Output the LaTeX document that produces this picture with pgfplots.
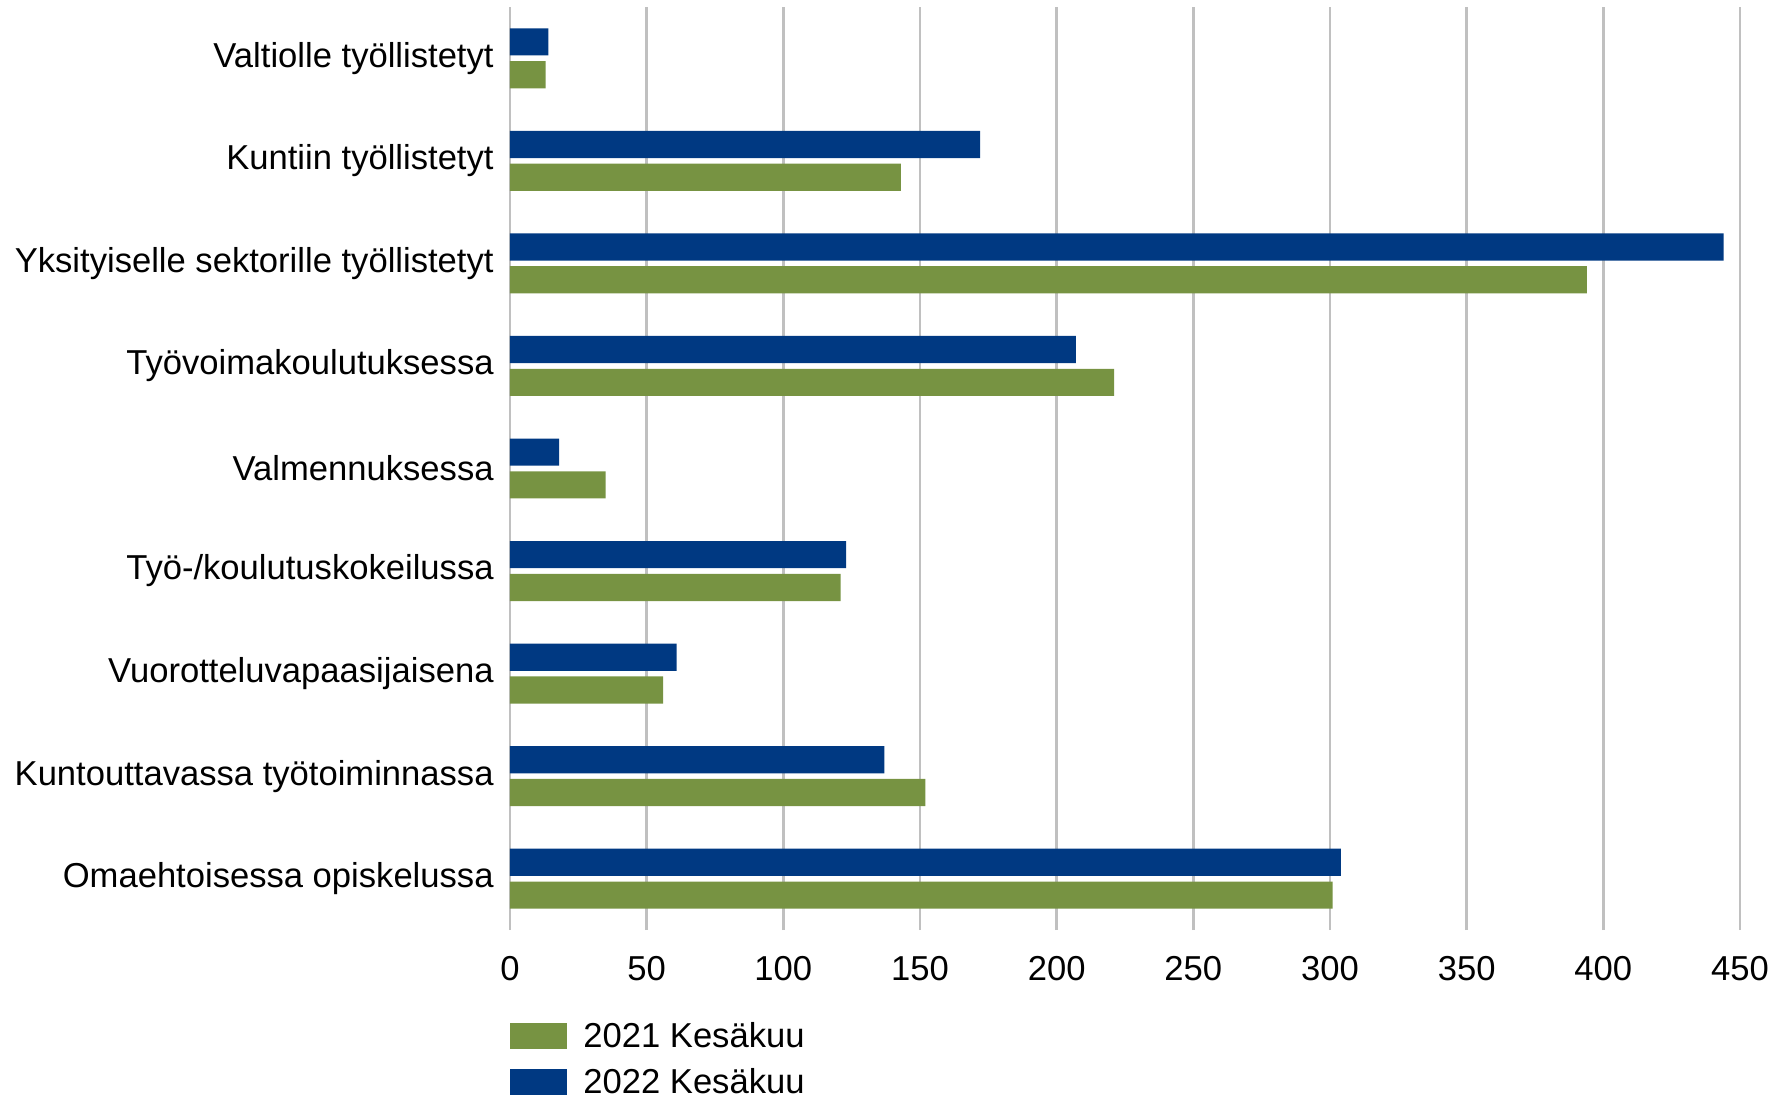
\documentclass[border=0pt]{standalone}
\usepackage{fontspec}
\setmainfont{Liberation Sans}
\usepackage{pgfplots}
\pgfplotsset{compat=1.18}
\definecolor{cblue}{RGB}{0,57,130}
\definecolor{cgreen}{RGB}{119,147,66}
\definecolor{cgrid}{RGB}{192,192,192}
\newcommand{\fnt}{\fontsize{17.3}{20.8}\selectfont}
\begin{document}
\begin{tikzpicture}[font=\fnt]
\useasboundingbox (-255pt,-85.5pt) rectangle (632.5pt,465pt);
\begin{axis}[
  at={(0,0)}, anchor=south west,
  scale only axis,
  width=615pt, height=461.5pt,
  xbar, bar width=0.265,
  xmin=0, xmax=450, ymin=-0.5, ymax=8.5,
  xtick={0,50,...,450},
  ytick={0,...,8},
  yticklabels={Omaehtoisessa opiskelussa, Kuntouttavassa työtoiminnassa, Vuorotteluvapaasijaisena, Työ-/koulutuskokeilussa, Valmennuksessa, Työvoimakoulutuksessa, Yksityiselle sektorille työllistetyt, Kuntiin työllistetyt, Valtiolle työllistetyt},
  axis line style={draw=none},
  major tick length=0pt,
  xmajorgrids=true, ymajorgrids=false,
  major grid style={cgrid, line width=1.3pt},
  /pgf/number format/assume math mode=true,
  tick label style={font=\fnt, text=black},
  yticklabel style={inner sep=0pt, xshift=-8pt},
  xticklabel style={inner sep=0pt, yshift=-13pt},
  legend style={font=\fnt, draw=none, fill=none, at={(rel axis cs:0,0)}, anchor=north west, yshift=-46pt, inner sep=0pt, column sep=8pt, row sep=8.8pt, nodes={inner sep=0pt}},
  legend cell align=left,
  legend image code/.code={\fill[#1] (0pt,-6.3pt) rectangle (28.5pt,6.7pt);},
]
\addplot[fill=cgreen, draw=none, bar shift=-0.16] coordinates {
  (301,0) (152,1) (56,2) (121,3) (35,4) (221,5) (394,6) (143,7) (13,8)};
\addlegendentry{2021 Kesäkuu}
\addplot[fill=cblue, draw=none, bar shift=0.16] coordinates {
  (304,0) (137,1) (61,2) (123,3) (18,4) (207,5) (444,6) (172,7) (14,8)};
\addlegendentry{2022 Kesäkuu}
\end{axis}
\end{tikzpicture}
\end{document}
